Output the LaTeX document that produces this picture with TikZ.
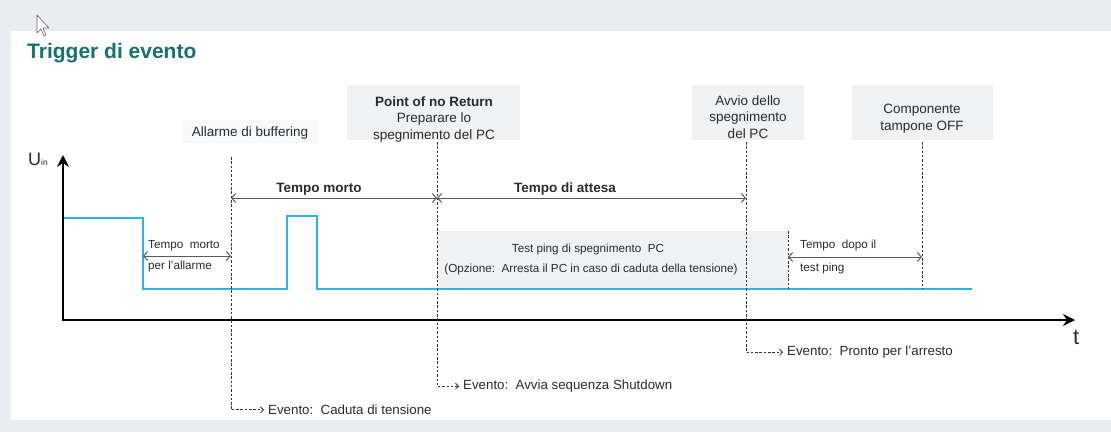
\documentclass[tikz,border=0pt]{standalone}
\usepackage{fontspec}
\setmainfont{Liberation Sans}
\usetikzlibrary{arrows.meta}
\definecolor{bggray}{HTML}{E9EDF1}
\definecolor{boxgray}{HTML}{EFF1F3}
\definecolor{faintgray}{HTML}{F8F9FA}
\definecolor{titleteal}{HTML}{16726F}
\definecolor{sig}{HTML}{2BB4E6}
\definecolor{arrgray}{HTML}{5A5A5A}
\definecolor{txt}{HTML}{2B2B2B}
\begin{document}
\begin{tikzpicture}[x=1pt,y=-1pt,
  lbl/.style={inner sep=0pt, font=\fontsize{13.5}{16.5}\selectfont, text=txt, align=center},
  small/.style={inner sep=0pt, font=\fontsize{11.7}{14}\selectfont, anchor=base west, text=txt},
  boldlbl/.style={inner sep=0pt, font=\bfseries\fontsize{13.5}{16}\selectfont, anchor=base, text=txt},
  evt/.style={inner sep=0pt, font=\fontsize{13.3}{16}\selectfont, anchor=mid west, text=txt},
  vdash/.style={draw=black!80, line width=0.8pt, dash pattern=on 2.5pt off 1.8pt},
  evarrow/.style={vdash, -{Straight Barb[length=3pt,width=6pt]}, shorten >=4pt},
  span/.style={draw=arrgray, line width=1pt, {Straight Barb[length=4pt,width=9pt]}-{Straight Barb[length=4pt,width=9pt]}},
  axis/.style={line width=2.6pt, {Stealth[length=12pt,width=12pt,inset=4pt]}-{Stealth[length=12pt,width=12pt,inset=4pt]}},
  signal/.style={draw=sig, line width=1.6pt},
]
% background and panel
\fill[bggray] (0,0) rectangle (1111,432);
\fill[white] (11,31) rectangle (1111,420);
\useasboundingbox (0,0) rectangle (1111,432);

% cursor
\filldraw[fill=white, draw=black!60, line width=0.6pt, line join=round]
  (37,15) -- (37,33) -- (41,29) -- (44,36) -- (46,35) -- (43,28) -- (49,28) -- cycle;

% title
\node[anchor=base west, inner sep=0pt, font=\bfseries\fontsize{21}{24}\selectfont, text=titleteal] (title) at (27,58) {Trigger di evento};

% label boxes
\fill[faintgray] (183,120) rectangle (317,143);
\fill[boxgray] (347,85) rectangle (520,140);
\fill[boxgray] (692,85) rectangle (804,140);
\fill[boxgray] (852,85) rectangle (993,140);
\fill[boxgray] (437,231) rectangle (788,289);

% top labels
\node[lbl, anchor=base] (allarme) at (250,136) {Allarme di buffering};
\node[lbl, anchor=base] (ponr) at (434,139) {\textbf{Point of no Return}\\Preparare lo\\spegnimento del PC};
\node[lbl, anchor=base] (avvio) at (748,138) {Avvio dello\\spegnimento\\del PC};
\node[lbl, anchor=base] (comp) at (922,130) {Componente\\tampone OFF};

% signal
\draw[signal] (63,218) -- (143,218) -- (143,289) -- (287,289) -- (287,216) -- (317,216) -- (317,289) -- (972,289);

% axes
\coordinate (ytop) at (63,155);
\coordinate (O) at (63,320);
\coordinate (xend) at (1075,320);
\draw[axis] (ytop) -- (O) -- (xend);
\node[anchor=base west, inner sep=0pt, font=\fontsize{18}{18}\selectfont, text=txt] (uin) at (28,165) {U{\fontsize{8.5}{9}\selectfont in}};
\node[anchor=base west, inner sep=0pt, font=\fontsize{22}{22}\selectfont, text=txt] (tlab) at (1073,344) {t};

% dashed markers
\coordinate (d1) at (231,157);
\coordinate (d2) at (437,142);
\coordinate (d3) at (746,142);
\coordinate (d4) at (922,142);
\coordinate (d4b) at (922,289);
\coordinate (d5) at (788,231);
\coordinate (d5b) at (788,289);

\node[evt] (ev1) at (268,412) {Evento:\ \ Caduta di tensione};
\node[evt] (ev2) at (463,387) {Evento:\ \ Avvia sequenza Shutdown};
\node[evt] (ev3) at (787,353) {Evento:\ \ Pronto per l'arresto};

\draw[evarrow] (d1) |- (ev1.west);
\draw[evarrow] (d2) |- (ev2.west);
\draw[evarrow] (d3) |- (ev3.west);
\draw[vdash] (d4) -- (d4b);
\draw[vdash] (d5) -- (d5b);

% spans
\coordinate (s1a) at (231,198); \coordinate (s1b) at (437,198);
\coordinate (s2a) at (437,198); \coordinate (s2b) at (746,198);
\coordinate (s3a) at (143,256); \coordinate (s3b) at (231,256);
\coordinate (s4a) at (788,257); \coordinate (s4b) at (922,257);
\draw[span] (s1a) -- (s1b);
\draw[span] (s2a) -- (s2b);
\draw[span] (s3a) -- (s3b);
\draw[span] (s4a) -- (s4b);

\node[boldlbl] (tm) at (319,192) {Tempo morto};
\node[boldlbl] (ta) at (565,192) {Tempo di attesa};

\node[small] (tma) at (148,248) {Tempo\ \ morto};
\node[small] (tmb) at (148,269) {per l'allarme};
\node[small] (tda) at (800,248) {Tempo\ \ dopo il};
\node[small] (tdb) at (800,271) {test ping};

\node[small, anchor=base] (tp1) at (588,252) {Test ping di spegnimento\ \ PC};
\node[small, anchor=base] (tp2) at (591,272) {(Opzione:\ \ Arresta il PC in caso di caduta della tensione)};
\end{tikzpicture}
\end{document}
